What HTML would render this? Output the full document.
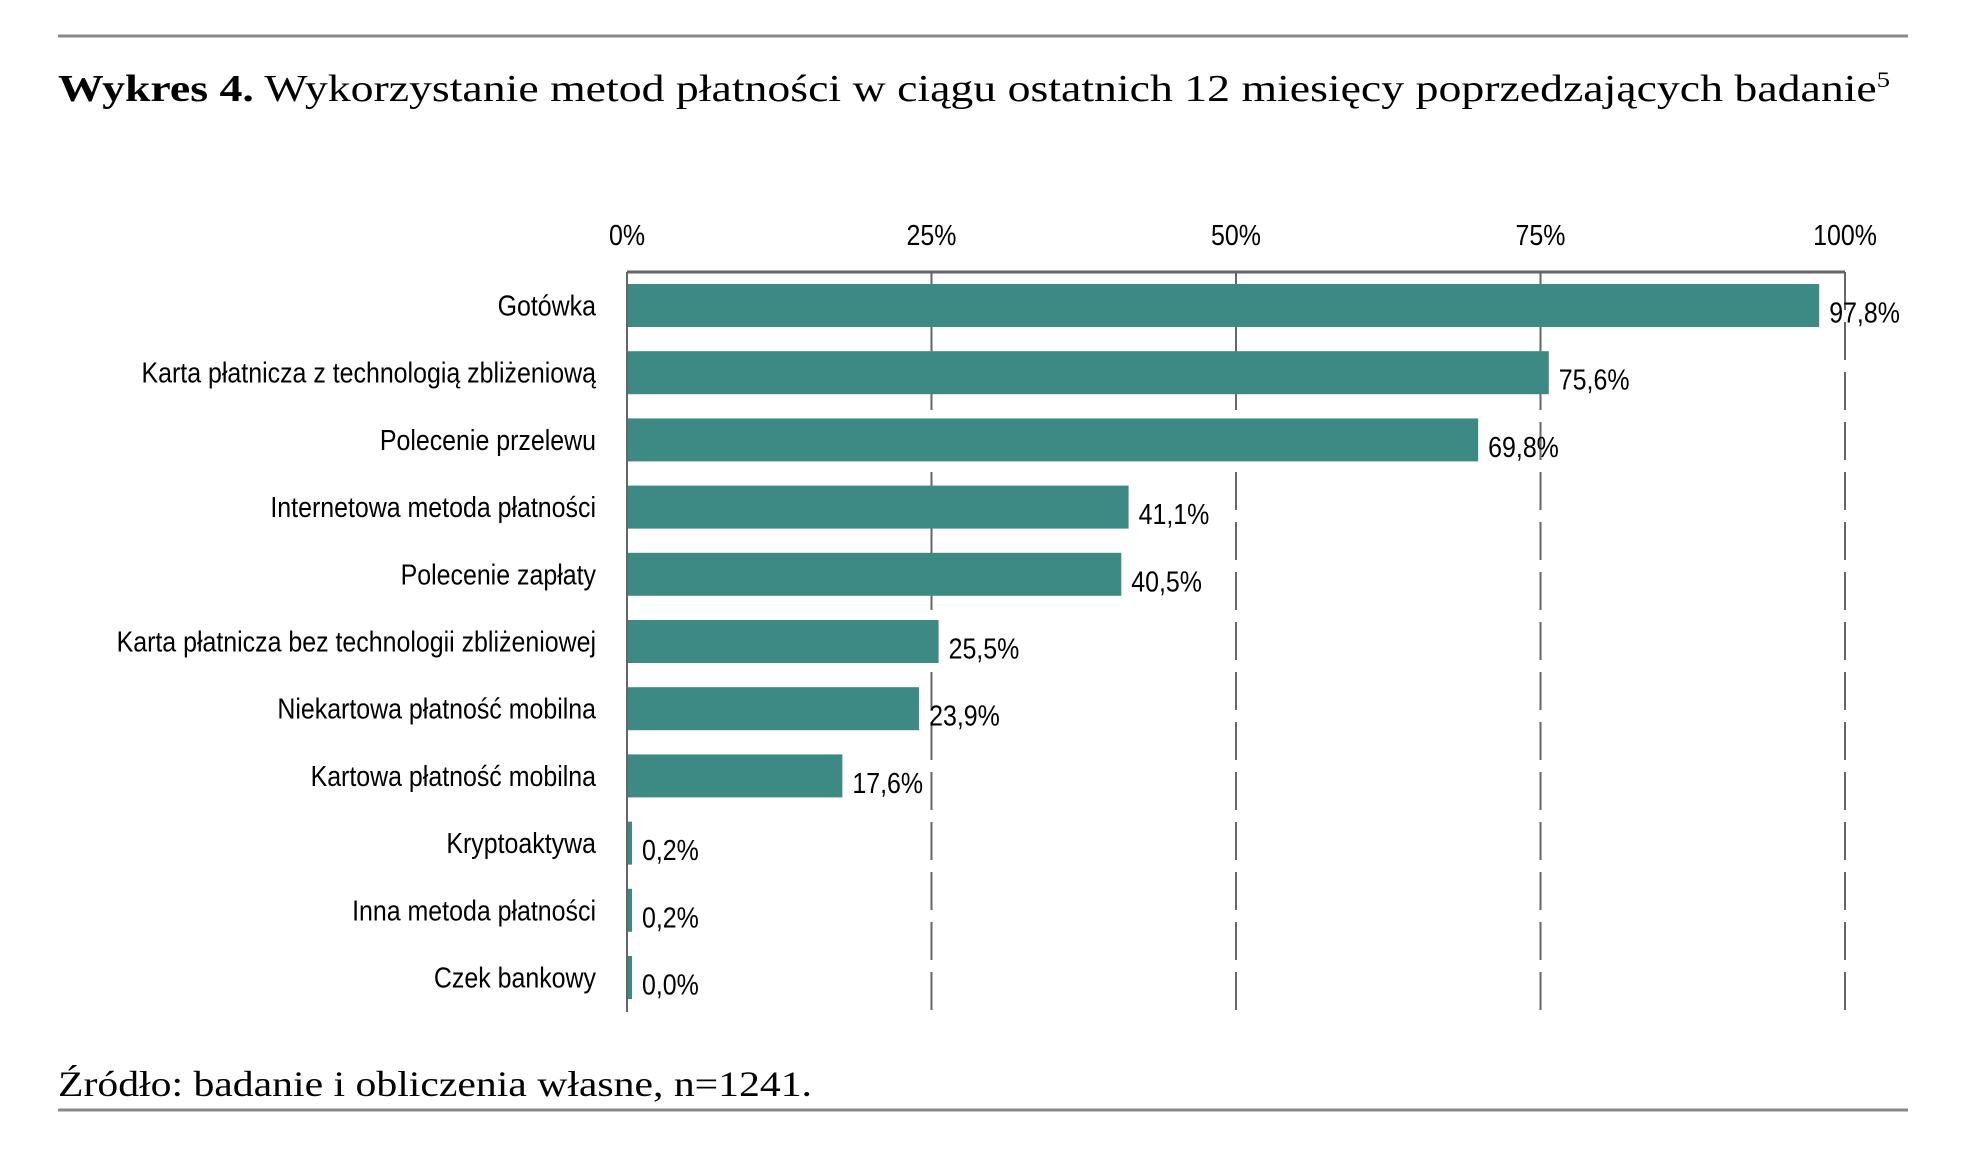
<!DOCTYPE html>
<html><head><meta charset="utf-8"><style>
html,body{margin:0;padding:0;background:#fff;}
svg{display:block;}
</style></head><body>
<svg id="chart" width="1976" height="1154" viewBox="0 0 1976 1154" xmlns="http://www.w3.org/2000/svg">
<line x1="58" y1="36" x2="1908" y2="36" stroke="#888" stroke-width="3"/>
<text x="58" y="101" font-family="Liberation Serif, serif" font-size="38" fill="#000" textLength="1832" lengthAdjust="spacingAndGlyphs"><tspan font-weight="bold">Wykres 4.</tspan> Wykorzystanie metod płatności w ciągu ostatnich 12 miesięcy poprzedzających badanie<tspan font-size="22" dy="-14">5</tspan></text>
<g id="plot"></g>
<text x="58" y="1096" font-family="Liberation Serif, serif" font-size="36" fill="#000" textLength="754" lengthAdjust="spacingAndGlyphs">Źródło: badanie i obliczenia własne, n=1241.</text>
<line x1="58" y1="1110" x2="1908" y2="1110" stroke="#888" stroke-width="3"/>
</svg>
<script>
const categories = ["Gotówka","Karta płatnicza z technologią zbliżeniową","Polecenie przelewu","Internetowa metoda płatności","Polecenie zapłaty","Karta płatnicza bez technologii zbliżeniowej","Niekartowa płatność mobilna","Kartowa płatność mobilna","Kryptoaktywa","Inna metoda płatności","Czek bankowy"];
const values = [97.8,75.6,69.8,41.1,40.5,25.5,23.9,17.6,0.2,0.2,0.0];
const valueLabels = ["97,8%","75,6%","69,8%","41,1%","40,5%","25,5%","23,9%","17,6%","0,2%","0,2%","0,0%"];
const ticks = [0,25,50,75,100];
const tickLabels = ["0%","25%","50%","75%","100%"];

const NS="http://www.w3.org/2000/svg";
const g=document.getElementById('plot');
const x0=627,x1=1845,yTop=272,yBot=1012,step=67.2,firstC=305.5,barH=43;
const xs=v=>x0+(x1-x0)*v/100;
const yc=i=>firstC+i*step;
function mk(t,a){const e=document.createElementNS(NS,t);for(const k in a)e.setAttribute(k,a[k]);g.appendChild(e);return e;}
const SX=0.86;
ticks.forEach((t,i)=>{
  const x=xs(t);
  if(i>0){
    const gl=mk('line',{x1:x,y1:yTop,x2:x,y2:yBot,stroke:'#666','stroke-width':2,'stroke-dasharray':'38 12'});
    
    
  }
  const tl=mk('text',{x:x/SX,y:245,'text-anchor':'middle','font-family':'Liberation Sans, sans-serif','font-size':29,fill:'#000',transform:`scale(${SX},1)`});
  tl.textContent=tickLabels[i];
  
  
});
const ax=mk('line',{x1:x0,y1:yTop,x2:x1,y2:yTop,stroke:'#666','stroke-width':3});


const ay=mk('line',{x1:x0,y1:yTop,x2:x0,y2:yBot,stroke:'#666','stroke-width':2});


categories.forEach((c,i)=>{
  const y=yc(i);
  const w=Math.max(xs(values[i])-x0,4);
  const b=mk('rect',{x:x0+1,y:y-barH/2,width:w,height:barH,fill:'#3d8a84'});
  
  
  const l=mk('text',{x:596/SX,y:y+10,'text-anchor':'end','font-family':'Liberation Sans, sans-serif','font-size':29,fill:'#000',transform:`scale(${SX},1)`});
  l.textContent=c;
  
  
  const vl=mk('text',{x:(x0+1+w+10)/SX,y:y+17,'font-family':'Liberation Sans, sans-serif','font-size':29,fill:'#000',transform:`scale(${SX},1)`});
  vl.textContent=valueLabels[i];
  
  
});
</script>
</body></html>
